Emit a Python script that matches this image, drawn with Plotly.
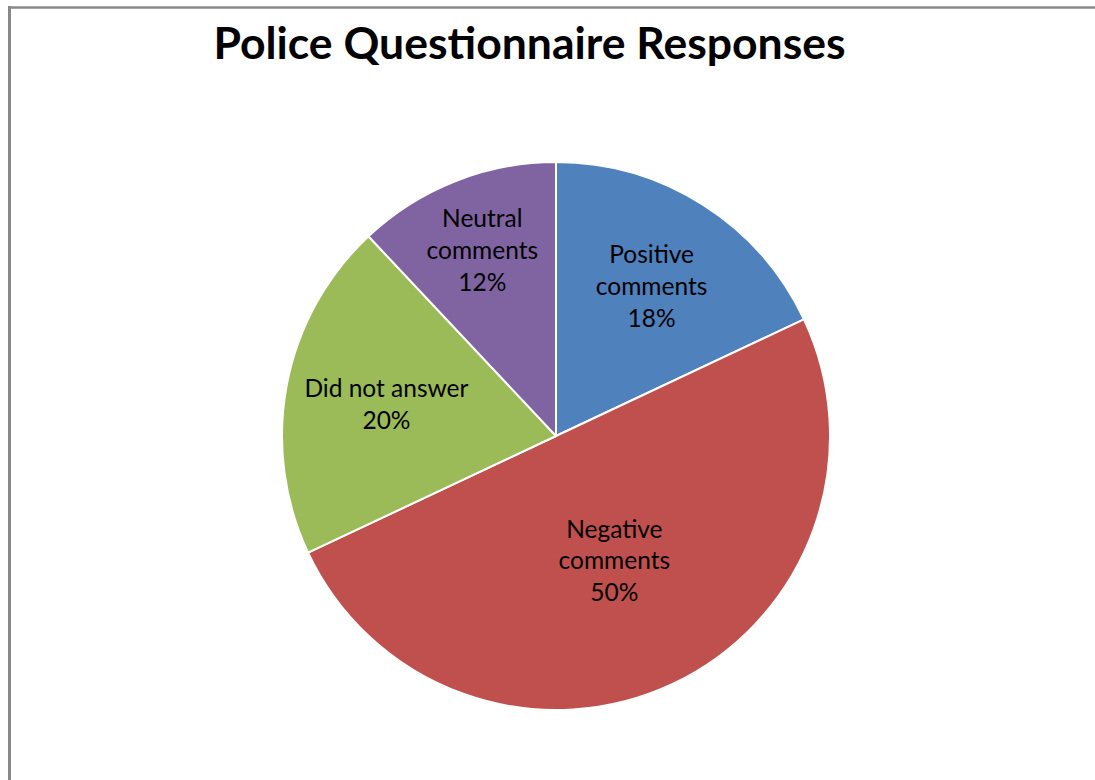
import plotly.graph_objects as go

categories = ["Positive comments", "Negative comments", "Did not answer", "Neutral comments"]
label_lines = ["Positive<br>comments", "Negative<br>comments", "Did not answer", "Neutral<br>comments"]
values = [18, 50, 20, 12]
colors = ["#4F81BD", "#C0504D", "#9BBB59", "#8064A2"]

W, H = 1095, 780
cx, cy, r = 556, 436, 274

texts = [f"{l}<br>{v}%" for l, v in zip(label_lines, values)]

fig = go.Figure(go.Pie(
    labels=categories,
    values=values,
    text=texts,
    textinfo="text",
    textposition="inside",
    insidetextorientation="horizontal",
    textfont=dict(family="Lato, Open Sans, sans-serif", size=24.5, color="#000000"),
    marker=dict(colors=colors, line=dict(color="#FFFFFF", width=2)),
    sort=False,
    direction="clockwise",
    rotation=0,
    showlegend=False,
    hoverinfo="label+percent",
    domain=dict(x=[(cx - r) / W, (cx + r) / W], y=[(H - cy - r) / H, (H - cy + r) / H]),
))

fig.update_layout(
    width=W, height=H,
    margin=dict(l=0, r=0, t=0, b=0),
    paper_bgcolor="#FFFFFF",
    plot_bgcolor="#FFFFFF",
    title=dict(text="<b>Police Questionnaire Responses</b>", x=529.5 / W, xanchor="center",
               y=1 - 43 / H, yanchor="middle",
               font=dict(family="Lato, Open Sans, sans-serif", size=44.5, color="#000000")),
    uniformtext=dict(minsize=24, mode="show"),
    shapes=[
        dict(type="line", xref="paper", yref="paper", x0=9.5 / W, x1=9.5 / W, y0=0, y1=1 - 6 / H,
             line=dict(color="#888888", width=3)),
        dict(type="line", xref="paper", yref="paper", x0=8 / W, x1=1, y0=1 - 7.5 / H, y1=1 - 7.5 / H,
             line=dict(color="#888888", width=2.5)),
    ],
)

fig.write_html("out.html")
